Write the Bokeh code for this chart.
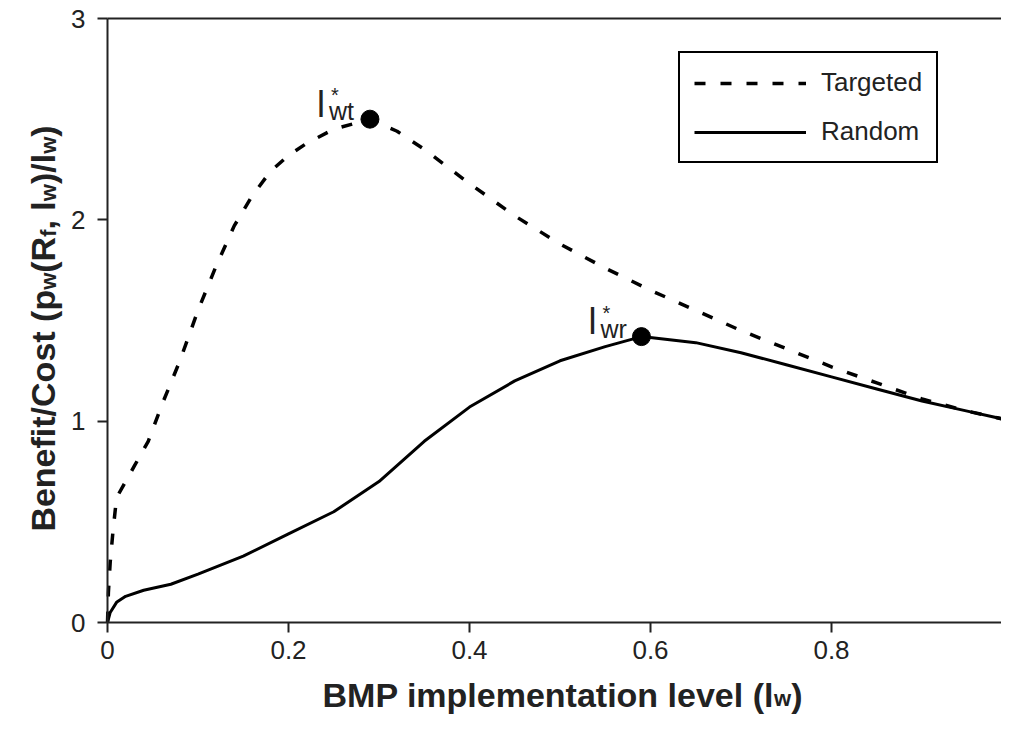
import math
from bokeh.plotting import figure
from bokeh.models import (Range1d, FixedTicker, Label, Legend, LegendItem,
                          LinearAxis)
from bokeh.embed import file_html
from bokeh.resources import INLINE

# ---------------- data ----------------
targeted_x = [0, 0.001, 0.003, 0.006, 0.01, 0.02, 0.03, 0.045, 0.06, 0.08, 0.1, 0.12,
              0.14, 0.16, 0.18, 0.2, 0.22, 0.25, 0.29, 0.32, 0.35, 0.4, 0.45, 0.5,
              0.55, 0.6, 0.65, 0.7, 0.75, 0.8, 0.85, 0.9, 0.95, 0.99]
targeted_y = [0, 0.15, 0.3, 0.45, 0.62, 0.7, 0.78, 0.9, 1.08, 1.3, 1.55, 1.77,
              1.97, 2.12, 2.24, 2.32, 2.38, 2.45, 2.5, 2.44, 2.35, 2.18, 2.02, 1.88,
              1.76, 1.65, 1.55, 1.45, 1.36, 1.27, 1.19, 1.11, 1.05, 1.01]

random_x = [0, 0.003, 0.01, 0.02, 0.04, 0.07, 0.1, 0.15, 0.2, 0.25, 0.3, 0.35, 0.4,
            0.45, 0.5, 0.55, 0.59, 0.65, 0.7, 0.75, 0.8, 0.85, 0.9, 0.95, 0.99]
random_y = [0, 0.05, 0.1, 0.13, 0.16, 0.19, 0.24, 0.33, 0.44, 0.55, 0.70, 0.9, 1.07,
            1.2, 1.3, 1.37, 1.42, 1.39, 1.34, 1.28, 1.22, 1.16, 1.1, 1.05, 1.01]

peak_x = [0.29, 0.59]
peak_y = [2.5, 1.42]
peak_names = ["wt", "wr"]

x_ticks = [0, 0.2, 0.4, 0.6, 0.8, 1.0]
x_tick_labels = ["0", "0.2", "0.4", "0.6", "0.8", "1"]
y_ticks = [0, 1, 2, 3]
y_tick_labels = ["0", "1", "2", "3"]

series_names = ["Targeted", "Random"]

# ---------------- layout ----------------
FONT = "Liberation Sans"
W, H = 1001, 715
ORIG_X, ORIG_Y = 107, 622          # pixel position of data (0, 0)
PXX = 905.0                        # pixels per x unit
PXY = 604.0 / 3.0                  # pixels per y unit
X0, X1 = -ORIG_X / PXX, (W - ORIG_X) / PXX
Y0, Y1 = -(H - ORIG_Y) / PXY, ORIG_Y / PXY

p = figure(width=W, height=H, x_range=Range1d(X0, X1), y_range=Range1d(Y0, Y1),
           output_backend="svg", toolbar_location=None,
           x_axis_location=None, y_axis_location=None, min_border=0)
p.title.visible = False
p.outline_line_color = None
p.grid.visible = False
p.background_fill_color = "white"
p.border_fill_color = "white"

xaxis = LinearAxis(fixed_location=0, bounds=(0, 1.0),
                   ticker=FixedTicker(ticks=x_ticks),
                   major_label_overrides={t: l for t, l in zip(x_ticks, x_tick_labels)})
yaxis = LinearAxis(fixed_location=0, bounds=(0, 3),
                   ticker=FixedTicker(ticks=y_ticks),
                   major_label_overrides={t: l for t, l in zip(y_ticks, y_tick_labels)})
topaxis = LinearAxis(fixed_location=3, bounds=(0, 1.0), ticker=FixedTicker(ticks=[]))
for ax in (xaxis, yaxis, topaxis):
    ax.axis_line_width = 2
    ax.axis_line_color = "#222222"
    ax.major_tick_line_width = 2
    ax.major_tick_line_color = "#222222"
    ax.major_tick_in = 0
    ax.major_tick_out = 10
    ax.minor_tick_line_color = None
    ax.major_label_text_font = FONT
    ax.major_label_text_font_size = "26px"
    ax.major_label_text_color = "#222222"
yaxis.major_label_standoff = 12
xaxis.major_label_standoff = 8
p.add_layout(xaxis, "below")
p.add_layout(yaxis, "left")
p.add_layout(topaxis, "above")

# ---------------- curves ----------------
r_t = p.line(targeted_x, targeted_y, line_color="black", line_width=3.5, line_dash="11 15")
r_r = p.line(random_x, random_y, line_color="black", line_width=3)
p.scatter(peak_x, peak_y, size=18, color="black")

# ---------------- legend ----------------
legend = Legend(items=[LegendItem(label=series_names[0], renderers=[r_t]),
                       LegendItem(label=series_names[1], renderers=[r_r])],
                location=(678, H - 8 - 155), orientation="vertical",
                label_text_font=FONT, label_text_font_size="26px",
                label_text_color="#222222",
                glyph_width=112, glyph_height=30, label_height=30,
                label_standoff=15, spacing=18, padding=14, margin=0,
                border_line_color="black", border_line_width=2, border_line_alpha=1.0,
                background_fill_color="white", background_fill_alpha=1.0)
p.add_layout(legend)

# ---------------- text helpers ----------------
BOLD_W = {" ": 278, "(": 333, ")": 333, ",": 278, "/": 278, "B": 722, "C": 722,
          "M": 833, "P": 667, "R": 722, "a": 556, "e": 556, "f": 333, "i": 278,
          "l": 278, "m": 889, "n": 611, "o": 611, "p": 611, "s": 556, "t": 333,
          "v": 556, "w": 778}


def tw(s, size):
    return sum(BOLD_W.get(c, 556) for c in s) * size / 1000.0


def add_text(x, y, text, size, bold=False, angle=0.0):
    p.add_layout(Label(x=x, y=y, text=text, text_font=FONT,
                       text_font_size=f"{size}px",
                       text_font_style="bold" if bold else "normal",
                       text_color="#222222", angle=angle,
                       text_align="left", text_baseline="alphabetic"))


# x axis title: BMP implementation level (l_w)
xpieces = [("BMP implementation level (l", 34, 0), ("w", 22, 4), (")", 34, 0)]
total = sum(tw(s, sz) for s, sz, _ in xpieces)
cx = 562 - ORIG_X - total / 2.0        # pixels right of the data origin
base = -(694 - ORIG_Y)                 # baseline, pixels above the data origin
for s, sz, drop in xpieces:
    add_text(cx / PXX, (base - drop) / PXY, s, sz, bold=True)
    cx += tw(s, sz)

# y axis title: Benefit/Cost (p_w(R_f, l_w)/l_w)
ypieces = [("Benefit/Cost (p", 34, 0), ("w", 22, 6), ("(R", 34, 0), ("f", 22, 6),
           (", l", 34, 0), ("w", 22, 6), (")/l", 34, 0), ("w", 22, 6), (")", 34, 0)]
total = sum(tw(s, sz) for s, sz, _ in ypieces)
cy = ORIG_Y - 328 - total / 2.0        # pixels above the data origin
bx = 42 - ORIG_X                       # baseline, pixels right of the data origin
for s, sz, drop in ypieces:
    add_text((bx + drop) / PXX, cy / PXY, s, sz, bold=True, angle=math.pi / 2)
    cy += tw(s, sz)

# peak annotations l*_wt, l*_wr
for px_, py_, name in zip(peak_x, peak_y, peak_names):
    add_text(px_ - 53 / PXX, py_ + 15 / PXY, "l", 36)
    add_text(px_ - 39 / PXX, py_ + 24 / PXY, "*", 20)
    add_text(px_ - 41 / PXX, py_ + 8 / PXY, name, 25)

open("out.html", "w").write(file_html(p, INLINE))
